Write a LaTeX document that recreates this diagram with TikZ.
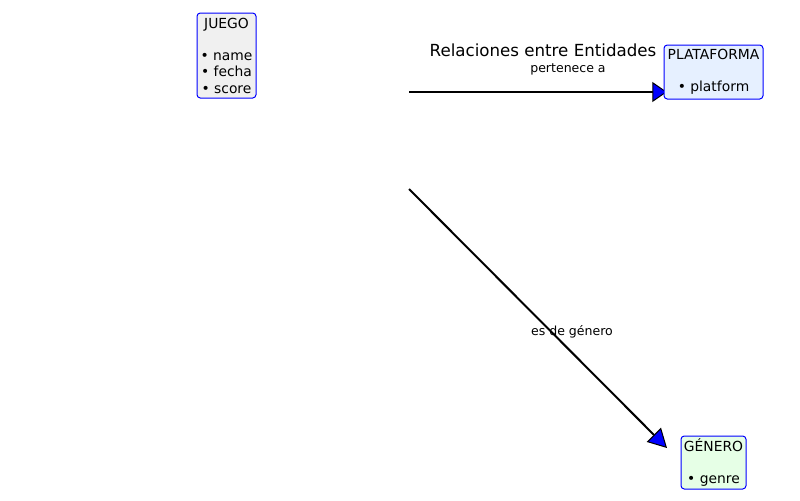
\documentclass[tikz,border=0pt]{standalone}
\usepackage{fontspec}
\setmainfont{DejaVu Sans}
\usetikzlibrary{arrows.meta}
\definecolor{boxgray}{HTML}{F0F0F0}
\definecolor{boxblue}{HTML}{E6F0FF}
\definecolor{boxgreen}{HTML}{E6FFE6}
\tikzset{
  entity/.style={draw=blue, line width=0.75pt, rounded corners=2.5pt, align=center,
    font=\fontsize{10.4}{12.2}\selectfont, inner sep=0pt},
  rel/.style={draw=black, line width=1.5pt},
  reltip/.style={-{Triangle[length=#1, width=15pt, fill=blue, line width=0.75pt]}},
  rellabel/.style={font=\fontsize{9.4}{11}\selectfont},
}
\begin{document}
\begin{tikzpicture}[x=0.75pt,y=-0.75pt]
\useasboundingbox (0,0) rectangle (800,500);
\coordinate (a1s) at (409,92);
\coordinate (a1e) at (667,92);
\coordinate (a2s) at (409,189);
\coordinate (a2e) at (667,448);
\draw[rel, reltip=11pt] (a1s) -- (a1e);
\draw[rel, reltip=14pt] (a2s) -- (a2e);
\node[entity, fill=boxgray, minimum width=59*0.75pt, minimum height=85*0.75pt] (juego) at (226.5,55.5)
  {JUEGO\\ ~\\ • name\\ • fecha\\ • score};
\node[entity, fill=boxblue, minimum width=99*0.75pt, minimum height=54*0.75pt] (plat) at (713.5,72)
  {PLATAFORMA\\ ~\\ • platform};
\node[entity, fill=boxgreen, minimum width=65*0.75pt, minimum height=53*0.75pt] (gen) at (713.5,462.5)
  {GÉNERO\\ ~\\ • genre};
\node[font=\fontsize{12.5}{15}\selectfont] (title) at (543,50) {Relaciones entre Entidades};
\node[rellabel] (l1) at (568,69) {pertenece a};
\node[rellabel] (l2) at (572,332) {es de género};
\end{tikzpicture}
\end{document}
